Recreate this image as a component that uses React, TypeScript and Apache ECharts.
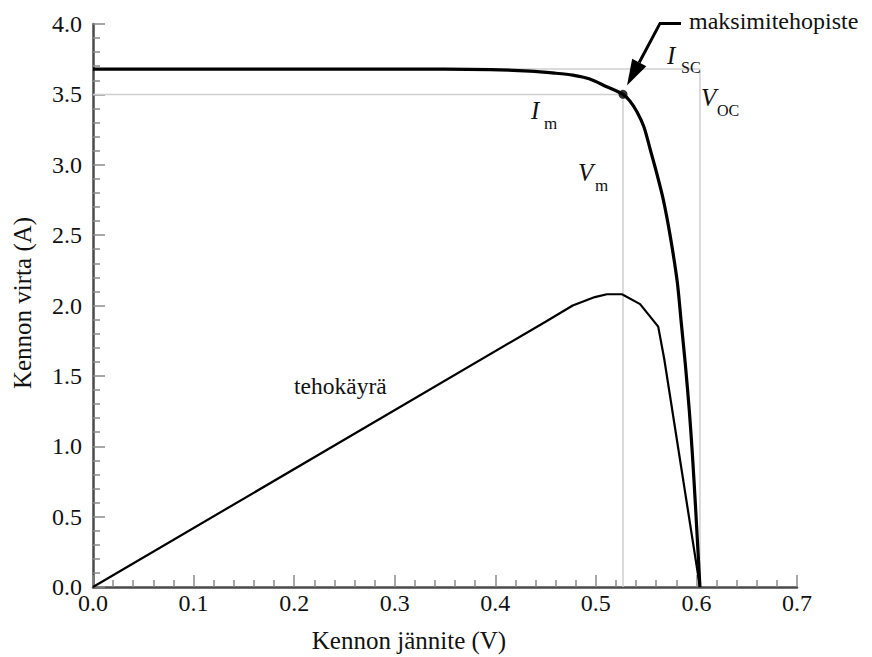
import React, { useEffect, useRef } from "react";
import * as echarts from "echarts";

// I-V curve of the cell
const ivVoltage = [0, 0.1, 0.2, 0.305, 0.395, 0.4345, 0.459, 0.477, 0.494, 0.509, 0.527, 0.534, 0.541, 0.548, 0.554, 0.56, 0.567, 0.574, 0.581, 0.585, 0.589, 0.593, 0.596, 0.599, 0.6015, 0.6035];
const ivCurrent = [3.68, 3.68, 3.68, 3.68, 3.676, 3.665, 3.651, 3.637, 3.609, 3.56, 3.5, 3.452, 3.375, 3.265, 3.11, 2.954, 2.754, 2.491, 2.164, 1.872, 1.58, 1.246, 0.94, 0.584, 0.26, 0];

// power curve (tehokäyrä)
const pVoltage = [0, 0.45, 0.477, 0.499, 0.511, 0.526, 0.544, 0.562, 0.568, 0.6035];
const pValue = [0, 1.885, 2.0, 2.06, 2.08, 2.08, 2.01, 1.85, 1.62, 0];

const mpp = [0.527, 3.5];
const isc = 3.68;
const voc = 0.6035;

const xTicks = { min: 0, max: 0.7, interval: 0.1 };
const yTicks = { min: 0, max: 4, interval: 0.5 };

const SERIF = "Times New Roman, Liberation Serif, DejaVu Serif, serif";

export default function App() {
  const ref = useRef<HTMLDivElement>(null);
  useEffect(() => {
    if (!ref.current) return;
    const chart = echarts.init(ref.current, null, { renderer: "svg" });
    const axisCommon = {
      axisLine: { show: true, lineStyle: { color: "#4a4a4a", width: 2.5 } },
      axisTick: { show: true, inside: true, length: 12, lineStyle: { color: "#8a8a8a", width: 1.5 } },
      minorTick: { show: true, splitNumber: 5, length: 7, lineStyle: { color: "#8a8a8a", width: 1.5 } },
      splitLine: { show: false },
      axisLabel: {
        color: "#111",
        fontFamily: SERIF,
        fontSize: 24,
        formatter: (v: number) => v.toFixed(1),
      },
    };
    chart.setOption({
      animation: false,
      backgroundColor: "#fff",
      textStyle: { fontFamily: SERIF },
      grid: { left: 93, right: 75, top: 24, bottom: 70, outerBoundsMode: "none", containLabel: false },
      xAxis: {
        type: "value",
        ...xTicks,
        ...axisCommon,
        axisLabel: { ...axisCommon.axisLabel, margin: 4 },
      },
      yAxis: {
        type: "value",
        ...yTicks,
        ...axisCommon,
        axisLabel: { ...axisCommon.axisLabel, margin: 11 },
      },
      series: [
        {
          type: "line",
          data: [[0, isc], [voc, isc], [voc, 0]],
          symbol: "none",
          lineStyle: { color: "#cfcfcf", width: 1.5 },
          z: 1,
          silent: true,
        },
        {
          type: "line",
          data: [[0, mpp[1]], [mpp[0], mpp[1]], [mpp[0], 0]],
          symbol: "none",
          lineStyle: { color: "#cfcfcf", width: 1.5 },
          z: 1,
          silent: true,
        },
        {
          type: "line",
          name: "tehokäyrä",
          data: pVoltage.map((v, i) => [v, pValue[i]]),
          symbol: "none",
          lineStyle: { color: "#000", width: 2.2 },
          z: 3,
        },
        {
          type: "line",
          name: "I-V",
          data: ivVoltage.map((v, i) => [v, ivCurrent[i]]),
          symbol: "none",
          smooth: 0.25,
          lineStyle: { color: "#000", width: 3.2 },
          z: 4,
        },
        {
          type: "scatter",
          data: [mpp],
          symbol: "circle",
          symbolSize: 9,
          itemStyle: { color: "#000" },
          z: 5,
        },
      ],
    });

    const p = chart.convertToPixel({ xAxisIndex: 0, yAxisIndex: 0 }, mpp) as number[];
    const T = [p[0] + 4, p[1] - 9];
    const S = [T[0] + 33, T[1] - 62];
    const E = [S[0] + 21, S[1]];
    const dx = T[0] - S[0];
    const dy = T[1] - S[1];
    const len = Math.sqrt(dx * dx + dy * dy);
    const ux = dx / len, uy = dy / len;
    const nx = -uy, ny = ux;
    const hl = 26, hw = 8;
    const B = [T[0] - hl * ux, T[1] - hl * uy];

    const txt = (text: string, x: number, y: number, size: number, italic = false, align = "left", rotation = 0) => ({
      type: "text",
      x,
      y,
      rotation,
      style: {
        text,
        fill: "#111",
        font: `${italic ? "italic " : ""}${size}px ${SERIF}`,
        textAlign: align,
        textVerticalAlign: "middle",
      },
      z: 10,
    });

    chart.setOption({
      graphic: [
        {
          type: "polyline",
          shape: { points: [E, S, B] },
          style: { stroke: "#000", lineWidth: 3, fill: null },
          z: 10,
        },
        {
          type: "polygon",
          shape: { points: [T, [B[0] + hw * nx, B[1] + hw * ny], [B[0] - hw * nx, B[1] - hw * ny]] },
          style: { fill: "#000" },
          z: 10,
        },
        txt("maksimitehopiste", 689, 21, 24),
        txt("I", 667, 55, 25, true),
        txt("SC", 681, 67, 16),
        txt("V", 701, 97, 25, true),
        txt("OC", 717, 110, 16),
        txt("I", 531, 110, 25, true),
        txt("m", 544, 123, 17),
        txt("V", 578, 172, 25, true),
        txt("m", 595, 185, 17),
        txt("tehokäyrä", 294, 386, 23.5),
        txt("Kennon jännite (V)", 409, 640, 25, false, "center"),
        txt("Kennon virta (A)", 22, 303, 25, false, "center", Math.PI / 2),
      ],
    });

    return () => chart.dispose();
  }, []);
  return (
    <div
      ref={ref}
      style={{ position: "absolute", left: 0, top: 0, width: 872, height: 657 }}
    />
  );
}
